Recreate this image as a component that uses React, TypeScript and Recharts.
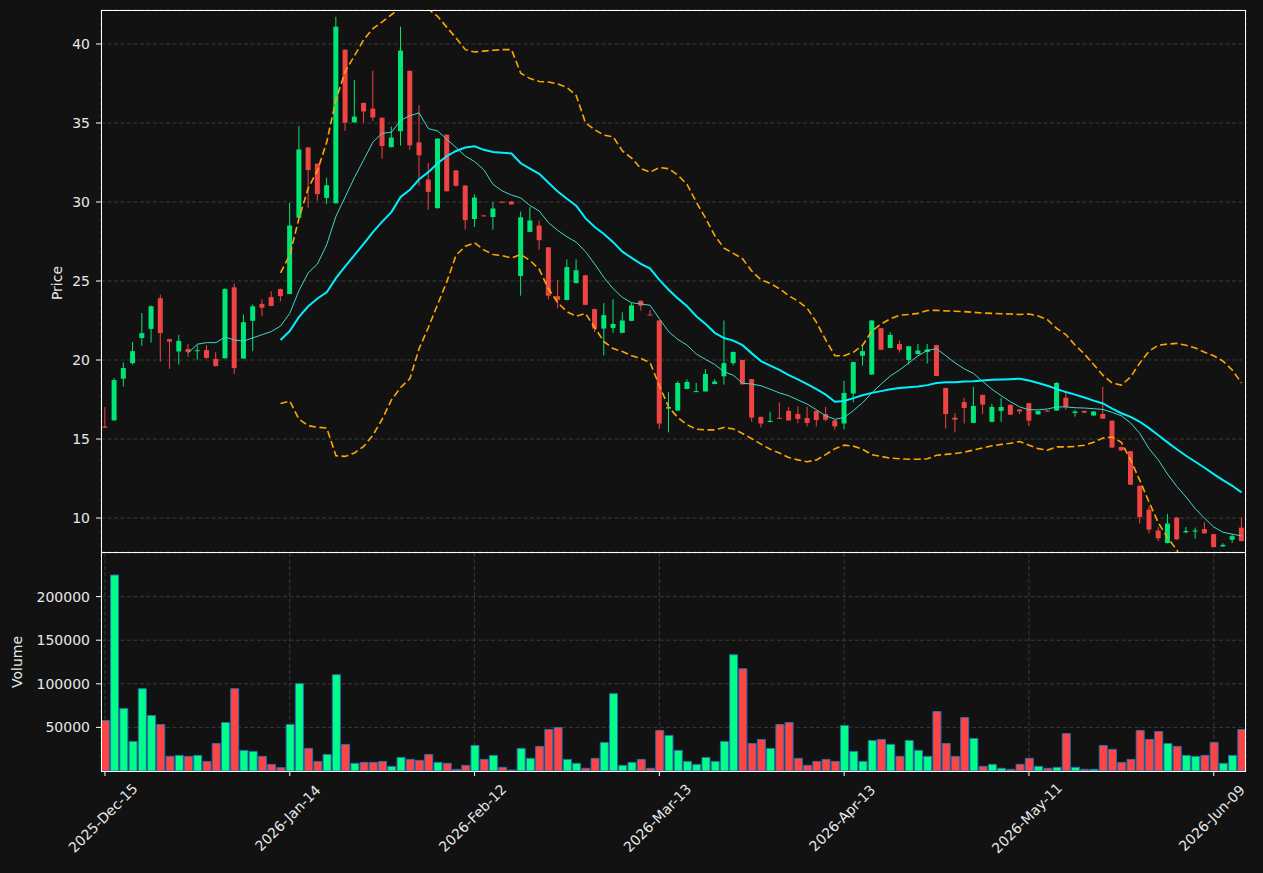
import { ComposedChart, Bar, Line, XAxis, YAxis, CartesianGrid, Cell } from "recharts"

const dates = (
  "2025-Dec-15 2025-Dec-16 2025-Dec-17 2025-Dec-18 2025-Dec-19 2025-Dec-22 2025-Dec-23 2025-Dec-24 2025-Dec-26 2025-Dec-29 " +
  "2025-Dec-30 2025-Dec-31 2026-Jan-02 2026-Jan-05 2026-Jan-06 2026-Jan-07 2026-Jan-08 2026-Jan-09 2026-Jan-12 2026-Jan-13 " +
  "2026-Jan-14 2026-Jan-15 2026-Jan-16 2026-Jan-20 2026-Jan-21 2026-Jan-22 2026-Jan-23 2026-Jan-26 2026-Jan-27 2026-Jan-28 " +
  "2026-Jan-29 2026-Jan-30 2026-Feb-02 2026-Feb-03 2026-Feb-04 2026-Feb-05 2026-Feb-06 2026-Feb-09 2026-Feb-10 2026-Feb-11 " +
  "2026-Feb-12 2026-Feb-13 2026-Feb-17 2026-Feb-18 2026-Feb-19 2026-Feb-20 2026-Feb-23 2026-Feb-24 2026-Feb-25 2026-Feb-26 " +
  "2026-Feb-27 2026-Mar-02 2026-Mar-03 2026-Mar-04 2026-Mar-05 2026-Mar-06 2026-Mar-09 2026-Mar-10 2026-Mar-11 2026-Mar-12 " +
  "2026-Mar-13 2026-Mar-16 2026-Mar-17 2026-Mar-18 2026-Mar-19 2026-Mar-20 2026-Mar-23 2026-Mar-24 2026-Mar-25 2026-Mar-26 " +
  "2026-Mar-27 2026-Mar-30 2026-Mar-31 2026-Apr-01 2026-Apr-02 2026-Apr-06 2026-Apr-07 2026-Apr-08 2026-Apr-09 2026-Apr-10 " +
  "2026-Apr-13 2026-Apr-14 2026-Apr-15 2026-Apr-16 2026-Apr-17 2026-Apr-20 2026-Apr-21 2026-Apr-22 2026-Apr-23 2026-Apr-24 " +
  "2026-Apr-27 2026-Apr-28 2026-Apr-29 2026-Apr-30 2026-May-01 2026-May-04 2026-May-05 2026-May-06 2026-May-07 2026-May-08 " +
  "2026-May-11 2026-May-12 2026-May-13 2026-May-14 2026-May-15 2026-May-18 2026-May-19 2026-May-20 2026-May-21 2026-May-22 " +
  "2026-May-26 2026-May-27 2026-May-28 2026-May-29 2026-Jun-01 2026-Jun-02 2026-Jun-03 2026-Jun-04 2026-Jun-05 2026-Jun-08 " +
  "2026-Jun-09 2026-Jun-10 2026-Jun-11 2026-Jun-12"
).split(" ")

const opens = [
  15.8, 16.18, 18.82, 19.8, 21.39, 21.97, 23.91, 21.32, 20.54, 20.69,
  20.6, 20.63, 20.07, 20.11, 24.6, 20.09, 22.48, 23.55, 23.98, 24.49,
  24.18, 29.01, 33.45, 32.42, 30.26, 29.92, 39.64, 35.04, 36.27, 35.91,
  35.33, 33.47, 34.48, 38.3, 33.77, 31.42, 29.61, 34.26, 32.0, 31.04,
  28.92, 29.15, 29.05, 30.02, 30.03, 25.32, 28.11, 28.51, 27.13, 24.04,
  23.8, 24.87, 25.36, 23.22, 21.99, 22.03, 21.72, 22.48, 23.75, 22.88,
  22.5, 16.92, 16.8, 18.17, 17.99, 18.01, 18.48, 18.97, 19.8, 20.0,
  18.79, 16.4, 16.08, 16.34, 16.78, 16.58, 16.33, 16.78, 16.58, 16.18,
  15.98, 17.88, 20.27, 19.08, 22.01, 20.76, 21.01, 20.0, 20.38, 20.51,
  20.94, 18.23, 16.35, 17.34, 16.02, 17.79, 16.09, 16.78, 17.16, 16.87,
  17.27, 16.56, 16.8, 16.8, 17.61, 16.65, 16.78, 16.49, 16.58, 16.16,
  14.5, 14.23, 12.04, 10.53, 9.21, 8.42, 10.03, 9.1, 9.14, 9.3,
  8.98, 8.21, 8.63, 9.39,
]

const highs = [
  17.03, 18.86, 19.84, 21.14, 22.97, 23.45, 24.13, 21.34, 21.59, 21.01,
  20.94, 20.94, 20.49, 24.55, 24.85, 22.88, 23.51, 23.84, 24.36, 24.52,
  29.94, 34.82, 33.47, 32.44, 31.55, 41.72, 39.66, 37.72, 36.29, 38.3,
  35.35, 34.77, 41.09, 38.32, 36.13, 32.47, 34.03, 34.28, 32.02, 31.06,
  30.48, 29.17, 29.99, 30.04, 30.05, 29.39, 29.68, 28.83, 27.15, 25.07,
  26.37, 26.37, 25.38, 23.24, 23.6, 23.84, 23.02, 23.62, 23.77, 23.17,
  22.52, 17.97, 18.66, 18.77, 18.55, 19.42, 18.79, 22.5, 20.53, 20.02,
  18.81, 16.42, 16.72, 17.32, 17.03, 17.07, 17.03, 16.8, 17.03, 16.2,
  18.68, 19.89, 20.94, 22.52, 22.03, 21.77, 21.23, 20.89, 21.01, 21.01,
  20.96, 18.25, 16.63, 17.61, 18.3, 17.81, 17.23, 17.61, 17.18, 16.89,
  17.29, 16.8, 16.82, 18.6, 17.97, 16.85, 16.8, 16.76, 18.3, 16.18,
  14.52, 14.25, 12.06, 10.73, 9.43, 10.26, 10.05, 9.43, 9.39, 9.74,
  9.0, 8.4, 8.98, 10.03,
]

const lows = [
  15.7, 16.16, 18.32, 19.71, 20.89, 21.1, 19.89, 19.44, 19.71, 20.2,
  20.02, 20.09, 19.58, 20.09, 19.11, 20.07, 20.56, 22.77, 23.4, 23.71,
  24.16, 28.99, 29.63, 30.08, 29.88, 29.9, 34.5, 35.02, 35.02, 35.13,
  32.74, 33.45, 33.56, 33.3, 31.04, 29.52, 29.59, 30.66, 30.98, 28.25,
  28.42, 29.1, 28.25, 29.96, 29.83, 24.07, 28.09, 26.97, 23.84, 23.28,
  23.78, 24.85, 23.47, 21.77, 20.29, 21.72, 21.7, 22.46, 23.13, 22.83,
  15.64, 15.42, 16.78, 18.15, 17.97, 17.99, 18.46, 18.44, 19.66, 18.44,
  16.09, 15.73, 16.06, 16.28, 16.16, 16.0, 15.8, 15.8, 16.13, 15.6,
  15.62, 17.32, 19.66, 19.06, 20.63, 20.74, 20.47, 19.71, 20.36, 19.78,
  18.97, 15.67, 15.42, 15.98, 16.0, 16.58, 16.07, 16.09, 16.52, 16.58,
  15.82, 16.54, 16.73, 16.78, 16.85, 16.42, 16.65, 16.47, 16.27, 14.44,
  14.26, 12.09, 9.65, 9.03, 8.54, 8.4, 8.63, 9.03, 8.69, 9.01,
  8.14, 8.16, 8.42, 8.52,
]

const closes = [
  15.72, 18.73, 19.49, 20.56, 21.7, 23.4, 21.7, 21.16, 21.21, 20.51,
  20.62, 20.13, 19.62, 24.49, 19.49, 22.39, 23.4, 23.31, 23.42, 24.04,
  28.51, 33.32, 32.02, 30.5, 31.06, 41.09, 35.02, 35.4, 35.73, 35.35,
  33.54, 34.08, 39.58, 33.59, 32.96, 30.64, 34.01, 30.68, 31.02, 28.85,
  30.28, 29.12, 29.59, 29.98, 29.85, 29.03, 28.83, 27.58, 24.07, 23.8,
  25.88, 25.68, 23.49, 21.99, 22.84, 22.28, 22.5, 23.46, 23.44, 22.85,
  15.98, 17.03, 18.55, 18.61, 18.03, 19.11, 18.64, 19.8, 20.51, 18.46,
  16.36, 15.98, 16.15, 16.3, 16.18, 16.27, 16.02, 16.2, 16.22, 15.8,
  17.92, 19.87, 20.56, 22.5, 20.65, 21.59, 20.65, 20.87, 20.6, 20.67,
  18.99, 16.58, 16.22, 16.96, 17.09, 17.18, 17.03, 17.03, 16.54, 16.74,
  16.16, 16.78, 16.75, 18.55, 17.03, 16.74, 16.67, 16.74, 16.29, 14.46,
  14.28, 12.11, 10.06, 9.27, 8.72, 9.65, 8.65, 9.18, 9.21, 9.03,
  8.16, 8.3, 8.85, 8.54,
]

const volumes = [
  57900, 224700, 71600, 33900, 94400, 63600, 53300, 16800, 17900, 16800,
  17900, 11000, 31600, 55600, 94400, 23600, 22500, 16800, 7600, 3800,
  53300, 100200, 25900, 11000, 19000, 110400, 30500, 8800, 9900, 9900,
  11000, 5300, 15600, 13300, 12200, 19000, 9900, 8800, 1900, 6500,
  29300, 13300, 17900, 4200, 1100, 25900, 14500, 28200, 47600, 49900,
  13300, 8800, 3100, 14500, 32800, 88700, 6500, 9900, 13300, 3100,
  46500, 40800, 23600, 11000, 7600, 15600, 11000, 33900, 133300, 117300,
  31600, 36200, 25900, 53300, 55600, 14500, 6500, 11000, 13300, 11000,
  52200, 22500, 11000, 35000, 36200, 30500, 16800, 35000, 23600, 16800,
  68200, 31600, 16800, 61300, 37300, 5300, 7600, 3100, 1900, 7600,
  14500, 5300, 3100, 4200, 43000, 4200, 1900, 1900, 29300, 24800,
  9900, 13300, 46500, 36200, 45300, 31600, 28200, 17900, 16800, 17900,
  32800, 8800, 17900, 47600,
]

// short moving average, from bar 9
const MA10_FROM = 9
const ma10 = [
  20.45, 21.0, 21.1, 21.1, 21.45, 21.27, 21.2, 21.4, 21.6, 21.8, 22.15,
  22.95, 24.4, 25.52, 26.08, 27.3, 29.1, 30.32, 31.55, 32.67, 33.79,
  34.35, 34.41, 35.17, 35.46, 35.64, 34.64, 34.5, 33.97, 33.45, 32.9,
  32.56, 32.04, 31.11, 30.7, 30.44, 30.26, 29.77, 29.43, 28.69, 28.2,
  27.8, 27.46, 26.86, 26.08, 25.23, 24.51, 23.96, 23.62, 23.55, 23.46,
  22.61, 21.8, 21.3, 20.94, 20.38, 20.04, 19.71, 19.26, 19.04, 18.53,
  18.48, 18.37, 18.15, 17.92, 17.74, 17.47, 17.21, 16.85, 16.47, 16.25,
  16.36, 16.8, 17.3, 17.92, 18.48, 18.99, 19.37, 19.82, 20.27, 20.6,
  20.72, 20.27, 19.82, 19.44, 19.15, 18.64, 18.15, 17.74, 17.36, 17.03,
  16.85, 16.85, 16.9, 17.03, 17.03, 16.98, 16.96, 16.92, 16.87, 16.69,
  16.47, 16.02, 15.35, 14.39, 13.68, 12.78, 12.0, 11.33, 10.59, 9.99,
  9.43, 9.1, 8.98, 8.87,
]

// long moving average and its bands, from bar 19
const MA20_FROM = 19
const ma20 = [
  21.27, 21.83, 22.73, 23.4, 23.89, 24.29, 25.18, 25.92, 26.64, 27.35, 28.09,
  28.76, 29.36, 30.32, 30.77, 31.44, 31.89, 32.45, 32.9, 33.23, 33.45,
  33.52, 33.3, 33.16, 33.12, 33.07, 32.45, 32.11, 31.78, 31.22, 30.66,
  30.21, 29.77, 28.98, 28.42, 27.98, 27.46, 26.86, 26.46, 26.08, 25.79,
  25.07, 24.45, 23.9, 23.4, 22.77, 22.28, 21.72, 21.39, 21.23, 20.94,
  20.42, 19.93, 19.64, 19.37, 19.04, 18.77, 18.48, 18.15, 17.81, 17.36,
  17.41, 17.59, 17.77, 17.92, 18.03, 18.15, 18.23, 18.28, 18.32, 18.41,
  18.55, 18.59, 18.59, 18.64, 18.66, 18.7, 18.75, 18.77, 18.79, 18.82,
  18.7, 18.55, 18.37, 18.17, 17.97, 17.81, 17.63, 17.43, 17.25, 16.92,
  16.63, 16.4, 16.09, 15.69, 15.24, 14.79, 14.35, 13.94, 13.56, 13.18,
  12.78, 12.4, 12.04, 11.62,
]

const bbUpper = [
  25.52, 26.64, 28.98, 30.88, 32.0, 33.79, 36.47, 38.26, 39.26, 40.27, 40.98,
  41.4, 41.85, 42.28, 42.5, 42.45, 42.2, 41.75, 41.05, 40.38, 39.64,
  39.49, 39.55, 39.6, 39.64, 39.64, 38.15, 37.81, 37.63, 37.59, 37.47,
  37.25, 36.74, 35.02, 34.57, 34.23, 34.12, 33.23, 32.78, 32.11, 31.89,
  32.18, 32.11, 31.7, 31.11, 29.99, 28.98, 27.87, 27.08, 26.75, 26.41,
  25.63, 25.07, 24.85, 24.51, 24.07, 23.73, 23.28, 22.39, 21.27, 20.27,
  20.27, 20.49, 20.94, 21.83, 22.28, 22.61, 22.84, 22.88, 22.95, 23.13,
  23.15, 23.11, 23.09, 23.06, 23.02, 22.97, 22.95, 22.93, 22.91, 22.88,
  22.91, 22.79, 22.55, 22.0, 21.61, 20.94, 20.38, 19.71, 19.04, 18.55,
  18.41, 18.93, 19.82, 20.56, 20.94, 21.01, 21.05, 20.94, 20.76, 20.49,
  20.27, 19.93, 19.37, 18.55,
]

const bbLower = [
  17.25, 17.4, 16.25, 15.84, 15.75, 15.69, 13.94, 13.9, 14.12, 14.53, 15.24,
  16.25, 17.47, 18.26, 18.82, 20.72, 22.06, 23.51, 24.96, 26.64, 27.2,
  27.42, 26.97, 26.68, 26.6, 26.46, 26.68, 26.3, 25.74, 24.51, 23.62,
  23.06, 22.77, 22.95, 22.06, 21.16, 20.72, 20.54, 20.27, 20.11, 19.82,
  18.37, 17.03, 16.36, 15.91, 15.62, 15.58, 15.58, 15.73, 15.64, 15.35,
  15.02, 14.68, 14.35, 14.12, 13.83, 13.68, 13.56, 13.68, 14.01, 14.39,
  14.61, 14.55, 14.35, 14.01, 13.9, 13.79, 13.75, 13.72, 13.72, 13.75,
  13.97, 14.03, 14.08, 14.17, 14.3, 14.44, 14.57, 14.66, 14.73, 14.84,
  14.61, 14.39, 14.3, 14.5, 14.5, 14.53, 14.61, 14.79, 15.06, 15.13,
  14.79, 13.68, 12.38, 11.0, 9.7, 8.76, 7.98, 6.9, 6.4, 5.9,
  5.3, 4.9, 4.7, 4.7,
]

const dateTicks = [0, 20, 40, 60, 80, 100, 120]
const priceTicks = [10, 15, 20, 25, 30, 35, 40]
const volumeTicks = [50000, 100000, 150000, 200000]

const BG = "#121212"
const TEXT = "#e8e8e8"
const GRID = "#3a3a3a"
const UP = "#00e676"
const DOWN = "#ef4444"
const VOL_UP = "#00ff88"
const VOL_DOWN = "#ff4444"
const FONT = "DejaVu Sans, sans-serif"

const rows = dates.map((date, i) => ({
  i,
  date,
  open: opens[i],
  high: highs[i],
  low: lows[i],
  close: closes[i],
  range: [lows[i], highs[i]],
  volume: volumes[i],
  ma10: i >= MA10_FROM ? ma10[i - MA10_FROM] : null,
  ma20: i >= MA20_FROM ? ma20[i - MA20_FROM] : null,
  bbUpper: i >= MA20_FROM ? bbUpper[i - MA20_FROM] : null,
  bbLower: i >= MA20_FROM ? bbLower[i - MA20_FROM] : null,
}))

const X_DOMAIN: [number, number] = [-0.43, 123.49]

function Candle(props: any) {
  const { x, y, width, height, payload } = props
  const { open, close, high, low } = payload
  const color = close >= open ? UP : DOWN
  const top = Math.min(y, y + height)
  const span = Math.abs(height)
  // pixels per price unit, taken from the bar the library laid out for [low, high]
  const ppu = high > low ? span / (high - low) : 0
  const bodyTop = top + (high - Math.max(open, close)) * ppu
  const bodyH = Math.max(1, Math.abs(open - close) * ppu)
  const cx = x + width / 2
  return (
    <g>
      <line x1={cx} x2={cx} y1={top} y2={top + span} stroke={color} strokeWidth={1} />
      <rect x={x} y={bodyTop} width={width} height={bodyH} fill={color} />
    </g>
  )
}

function DateTick(props: any) {
  const { x, y, payload } = props
  const cy = y + 42
  return (
    <text
      x={x - 2}
      y={cy}
      transform={`rotate(-45 ${x - 2} ${cy})`}
      textAnchor="middle"
      dominantBaseline="central"
      fill={TEXT}
      fontSize={14}
      fontFamily={FONT}
    >
      {dates[payload.value]}
    </text>
  )
}

function ValueTick(props: any) {
  const { x, y, payload } = props
  return (
    <text x={x} y={y} textAnchor="end" dominantBaseline="central" fill={TEXT} fontSize={14} fontFamily={FONT}>
      {String(payload.value)}
    </text>
  )
}

function Frame({ top, height }: { top: number; height: number }) {
  return (
    <div
      style={{
        position: "absolute",
        left: 101,
        top,
        width: 1145,
        height,
        border: "1px solid #ffffff",
        boxSizing: "border-box",
        pointerEvents: "none",
      }}
    />
  )
}

function AxisTitle({ text, x, y }: { text: string; x: number; y: number }) {
  return (
    <div
      style={{
        position: "absolute",
        left: x - 50,
        top: y - 10,
        width: 100,
        height: 20,
        lineHeight: "20px",
        textAlign: "center",
        transform: "rotate(-90deg)",
        color: TEXT,
        fontSize: 14,
        fontFamily: FONT,
      }}
    >
      {text}
    </div>
  )
}

export default function App() {
  return (
    <div style={{ position: "absolute", left: 0, top: 0, width: 1263, height: 873, background: BG, overflow: "hidden" }}>
      {/* price panel */}
      <div style={{ position: "absolute", left: 0, top: 0 }}>
        <ComposedChart width={1263} height={553} data={rows} margin={{ top: 10, right: 17, bottom: 0, left: 0 }}>
          <CartesianGrid stroke={GRID} strokeDasharray="4 2.5" />
          <XAxis
            dataKey="i"
            type="number"
            domain={X_DOMAIN}
            allowDataOverflow
            ticks={dateTicks}
            height={1}
            tick={false}
            tickLine={false}
            axisLine={false}
          />
          <YAxis
            type="number"
            domain={[7.85, 42.15]}
            allowDataOverflow
            ticks={priceTicks}
            width={101}
            tick={<ValueTick />}
            tickSize={5}
            tickMargin={6}
            tickLine={{ stroke: "#ffffff" }}
            axisLine={false}
          />
          <Bar dataKey="range" barSize={5} isAnimationActive={false} shape={(p: any) => <Candle {...p} />} />
          <Line dataKey="bbUpper" stroke="#ffa500" strokeWidth={1.6} strokeDasharray="7 3.5" dot={false} isAnimationActive={false} />
          <Line dataKey="bbLower" stroke="#ffa500" strokeWidth={1.6} strokeDasharray="7 3.5" dot={false} isAnimationActive={false} />
          <Line dataKey="ma10" stroke="#40d8c8" strokeWidth={1} dot={false} isAnimationActive={false} />
          <Line dataKey="ma20" stroke="#00f0ff" strokeWidth={2} dot={false} isAnimationActive={false} />
        </ComposedChart>
      </div>

      {/* volume panel */}
      <div style={{ position: "absolute", left: 0, top: 553 }}>
        <ComposedChart width={1263} height={320} data={rows} margin={{ top: 0, right: 17, bottom: 0, left: 0 }}>
          <CartesianGrid stroke={GRID} strokeDasharray="4 2.5" />
          <XAxis
            dataKey="i"
            type="number"
            domain={X_DOMAIN}
            allowDataOverflow
            ticks={dateTicks}
            height={102}
            tick={<DateTick />}
            tickSize={5}
            tickMargin={0}
            tickLine={{ stroke: "#ffffff" }}
            axisLine={false}
            interval={0}
          />
          <YAxis
            type="number"
            domain={[0, 250000]}
            allowDataOverflow
            ticks={volumeTicks}
            width={101}
            tick={<ValueTick />}
            tickSize={5}
            tickMargin={6}
            tickLine={{ stroke: "#ffffff" }}
            axisLine={false}
          />
          <Bar dataKey="volume" barSize={8} stroke="#2a6fb0" strokeWidth={1} isAnimationActive={false}>
            {rows.map((r) => (
              <Cell key={r.i} fill={r.close >= r.open ? VOL_UP : VOL_DOWN} />
            ))}
          </Bar>
        </ComposedChart>
      </div>

      <Frame top={10} height={543} />
      <Frame top={552} height={220} />
      <AxisTitle text="Price" x={57} y={283} />
      <AxisTitle text="Volume" x={17} y={662} />
    </div>
  )
}
